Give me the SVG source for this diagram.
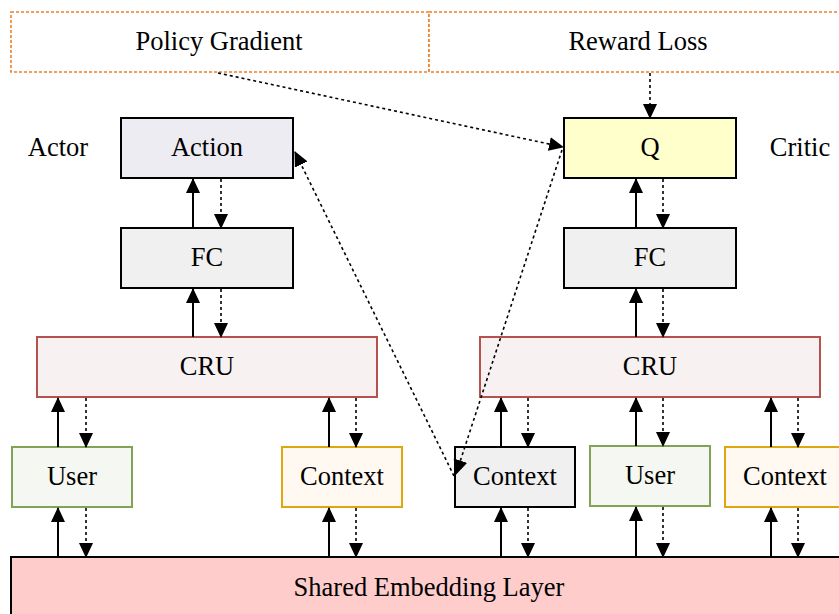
<svg xmlns="http://www.w3.org/2000/svg" width="839" height="614" viewBox="0 0 839 614">
  <style>
    text { font-family: "Liberation Serif", "Times New Roman", serif; font-size: 26.5px; fill: #000; text-anchor: middle; }
    .box { stroke: #000; stroke-width: 2; }
    .cru { fill: #F8F1F1; stroke: #B5524E; stroke-width: 2; }
    .user { fill: #F5F8F2; stroke: #82A356; stroke-width: 2; }
    .ctx { fill: #FFF9F2; stroke: #DDA70D; stroke-width: 2; }
    .loss { fill: #FFFFFF; stroke: #EE8026; stroke-width: 1.6; stroke-dasharray: 3 2; }
    .up { stroke: #000; stroke-width: 2; fill: none; marker-end: url(#arrow); }
    .down { stroke: #000; stroke-width: 1.6; stroke-dasharray: 3 3; fill: none; marker-end: url(#arrow); }
    .cross { stroke: #000; stroke-width: 1.6; stroke-dasharray: 3 3; fill: none; marker-end: url(#arrow); }
  </style>
  <defs>
    <marker id="arrow" viewBox="0 0 15 14" refX="14" refY="7" markerWidth="15" markerHeight="14" markerUnits="userSpaceOnUse" orient="auto">
      <path d="M0,0 L15,7 L0,14 Z" fill="#000"/>
    </marker>
  </defs>

  <!-- loss boxes -->
  <g id="policy-gradient">
    <rect class="loss" x="11" y="12" width="418" height="60"/>
    <text x="219" y="50">Policy Gradient</text>
  </g>
  <g id="reward-loss">
    <rect class="loss" x="429" y="12" width="420" height="60"/>
    <text x="638" y="50">Reward Loss</text>
  </g>

  <!-- side labels -->
  <g id="actor-label"><text x="58" y="156">Actor</text></g>
  <g id="critic-label"><text x="800" y="156">Critic</text></g>

  <!-- actor column -->
  <g id="action">
    <rect class="box" x="121" y="118" width="172" height="60" fill="#EEECF3"/>
    <text x="207" y="156">Action</text>
  </g>
  <g id="fc-actor">
    <rect class="box" x="121" y="228" width="172" height="60" fill="#F0F0F0"/>
    <text x="207" y="266">FC</text>
  </g>
  <g id="cru-actor">
    <rect class="cru" x="37" y="337" width="340" height="60"/>
    <text x="207" y="375">CRU</text>
  </g>
  <g id="user-actor">
    <rect class="user" x="12" y="447" width="120" height="60"/>
    <text x="72" y="485">User</text>
  </g>
  <g id="context-actor">
    <rect class="ctx" x="282" y="447" width="120" height="60"/>
    <text x="342" y="485">Context</text>
  </g>

  <!-- critic column -->
  <g id="q">
    <rect class="box" x="564" y="118" width="172" height="60" fill="#FFFFCC"/>
    <text x="650" y="156">Q</text>
  </g>
  <g id="fc-critic">
    <rect class="box" x="564" y="228" width="172" height="60" fill="#F0F0F0"/>
    <text x="650" y="266">FC</text>
  </g>
  <g id="cru-critic">
    <rect class="cru" x="480" y="337" width="340" height="60"/>
    <text x="650" y="375">CRU</text>
  </g>
  <g id="context-action">
    <rect class="box" x="455" y="447" width="120" height="60" fill="#F0F0F0"/>
    <text x="515" y="485">Context</text>
  </g>
  <g id="user-critic">
    <rect class="user" x="590" y="446" width="120" height="60"/>
    <text x="650" y="484">User</text>
  </g>
  <g id="context-critic">
    <rect class="ctx" x="725" y="447" width="130" height="60"/>
    <text x="785" y="485">Context</text>
  </g>

  <!-- shared embedding -->
  <g id="shared-embedding">
    <rect class="box" x="11" y="557" width="840" height="70" fill="#FFCCCC"/>
    <text x="429" y="596">Shared Embedding Layer</text>
  </g>

  <!-- connectors -->
  <g id="connectors">
    <!-- forward (solid, upward) -->
    <line class="up" x1="193" y1="228" x2="193" y2="179"/>
    <line class="up" x1="193" y1="337" x2="193" y2="289"/>
    <line class="up" x1="58" y1="447" x2="58" y2="398"/>
    <line class="up" x1="329" y1="447" x2="329" y2="398"/>
    <line class="up" x1="58" y1="557" x2="58" y2="508"/>
    <line class="up" x1="329" y1="557" x2="329" y2="508"/>
    <line class="up" x1="636" y1="228" x2="636" y2="179"/>
    <line class="up" x1="636" y1="337" x2="636" y2="289"/>
    <line class="up" x1="501" y1="447" x2="501" y2="398"/>
    <line class="up" x1="636" y1="446" x2="636" y2="398"/>
    <line class="up" x1="771" y1="447" x2="771" y2="398"/>
    <line class="up" x1="501" y1="557" x2="501" y2="508"/>
    <line class="up" x1="636" y1="557" x2="636" y2="507"/>
    <line class="up" x1="771" y1="557" x2="771" y2="508"/>
    <!-- backward (dashed, downward) -->
    <line class="down" x1="221" y1="179" x2="221" y2="228"/>
    <line class="down" x1="221" y1="289" x2="221" y2="337"/>
    <line class="down" x1="86" y1="398" x2="86" y2="447"/>
    <line class="down" x1="356" y1="398" x2="356" y2="447"/>
    <line class="down" x1="86" y1="508" x2="86" y2="557"/>
    <line class="down" x1="356" y1="508" x2="356" y2="557"/>
    <line class="down" x1="650" y1="73" x2="650" y2="118"/>
    <line class="down" x1="663" y1="179" x2="663" y2="228"/>
    <line class="down" x1="663" y1="289" x2="663" y2="337"/>
    <line class="down" x1="528" y1="398" x2="528" y2="447"/>
    <line class="down" x1="663" y1="398" x2="663" y2="446"/>
    <line class="down" x1="798" y1="398" x2="798" y2="447"/>
    <line class="down" x1="528" y1="508" x2="528" y2="557"/>
    <line class="down" x1="663" y1="507" x2="663" y2="557"/>
    <line class="down" x1="798" y1="508" x2="798" y2="557"/>
    <!-- cross links -->
    <line class="cross" x1="218" y1="73" x2="563" y2="147"/>
    <line class="cross" x1="454" y1="476" x2="295" y2="152"/>
    <line class="cross" x1="562" y1="150" x2="456" y2="474"/>
  </g>
</svg>
